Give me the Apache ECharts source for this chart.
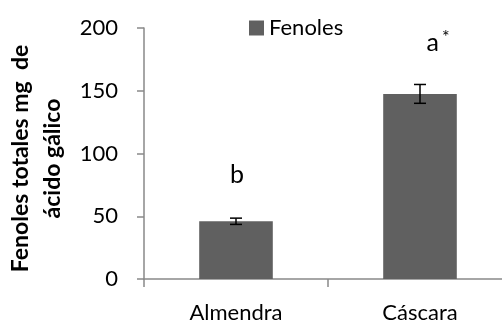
<!DOCTYPE html>
<html><head><meta charset="utf-8">
<script src="https://cdn.jsdelivr.net/npm/echarts@6/dist/echarts.min.js"></script>
<style>html,body{margin:0;padding:0;background:#fff}#c{width:502px;height:323px}</style>
</head><body><div id="c"></div>
<script>
const categories = ['Almendra', 'Cáscara'];
const values = [46, 147.5];
const errors = [2.5, 7.5];
const sigLabels = ['b', 'a*'];
const yTicks = [0, 50, 100, 150, 200];

const FONT = 'Lato';
const chart = echarts.init(document.getElementById('c'), null, {renderer: 'canvas'});
chart.setOption({
  animation: false,
  textStyle: {fontFamily: FONT},
  legend: {
    data: ['Fenoles'], left: 244, top: 12, icon: 'rect', itemWidth: 15, itemHeight: 15, itemGap: 6,
    textStyle: {fontSize: 22, color: '#000', fontFamily: FONT}
  },
  grid: {left: 144, right: -10, top: 28, bottom: 44, outerBoundsMode: 'none', containLabel: false},
  xAxis: {
    type: 'category', data: categories,
    axisLine: {lineStyle: {color: '#898989', width: 1.5}},
    axisTick: {show: true, length: 8, lineStyle: {color: '#898989', width: 1.5}},
    axisLabel: {fontSize: 22, color: '#000', margin: 23, fontFamily: FONT}
  },
  yAxis: {
    type: 'value', min: 0, max: 200, interval: 50,
    name: 'Fenoles totales mg  de\nácido gálico', nameLocation: 'middle', nameGap: 52,
    nameTextStyle: {fontSize: 23, fontWeight: 'bold', color: '#000', lineHeight: 32, fontFamily: FONT, padding: [0, 10, 0, 0]},
    splitLine: {show: false},
    axisLine: {show: true, lineStyle: {color: '#898989', width: 1.5}},
    axisTick: {show: true, length: 7, lineStyle: {color: '#898989', width: 1.5}},
    axisLabel: {fontSize: 22, color: '#000', margin: 26, fontFamily: FONT,
      formatter: v => yTicks.includes(v) ? String(v) : ''}
  },
  series: [
    {
      name: 'Fenoles', type: 'bar', barWidth: '40%',
      itemStyle: {color: '#606060'},
      data: values.map((v, i) => ({
        value: v,
        label: {
          show: true, position: 'top',
          distance: i === 0 ? 34 : 36,
          offset: i === 0 ? [1, 0] : [18, 0],
          formatter: () => {
            const s = sigLabels[i];
            return s.endsWith('*') ? '{m|' + s.slice(0, -1) + '}{s|*}' : '{m|' + s + '}';
          },
          rich: {
            m: {fontSize: 25, color: '#000', fontFamily: FONT},
            s: {fontSize: 18, color: '#000', fontFamily: FONT, verticalAlign: 'top', padding: [0, 0, 12, 3]}
          }
        }
      }))
    },
    {
      type: 'custom', name: 'err', silent: true,
      data: values.map((v, i) => [i, v - errors[i], v + errors[i]]),
      renderItem: (params, api) => {
        const lo = api.coord([api.value(0), api.value(1)]);
        const hi = api.coord([api.value(0), api.value(2)]);
        const hw = 6;
        const st = {stroke: '#000', lineWidth: 1.5};
        return {type: 'group', children: [
          {type: 'line', shape: {x1: lo[0], y1: lo[1], x2: hi[0], y2: hi[1]}, style: st},
          {type: 'line', shape: {x1: lo[0] - hw, y1: lo[1], x2: lo[0] + hw, y2: lo[1]}, style: st},
          {type: 'line', shape: {x1: hi[0] - hw, y1: hi[1], x2: hi[0] + hw, y2: hi[1]}, style: st}
        ]};
      },
      z: 10
    }
  ]
});
</script></body></html>
